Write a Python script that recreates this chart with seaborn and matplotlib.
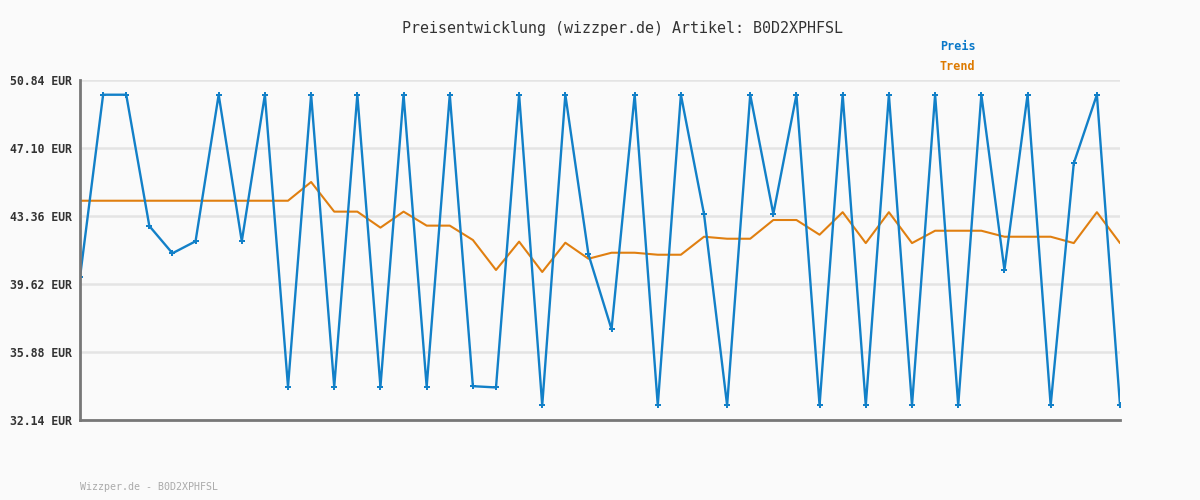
import numpy as np
import pandas as pd
import seaborn as sns
import matplotlib.pyplot as plt

# values
preis = [39.99, 50.03, 50.03, 42.81, 41.31, 41.97, 50.03, 41.97, 50.03, 33.97,
         50.03, 33.97, 50.03, 33.97, 50.03, 33.97, 50.03, 34.00, 33.93, 50.03,
         32.95, 50.03, 41.25, 37.13, 50.03, 32.95, 50.03, 43.47, 32.95, 50.03,
         43.47, 50.03, 32.95, 50.03, 32.95, 50.03, 32.95, 50.03, 32.95, 50.03,
         40.39, 50.03, 32.95, 46.26, 50.03, 32.95]
trend = [44.20, 44.20, 44.20, 44.20, 44.20, 44.20, 44.20, 44.20, 44.20, 44.20,
         45.23, 43.60, 43.60, 42.72, 43.60, 42.83, 42.83, 42.04, 40.39, 41.95,
         40.28, 41.89, 41.01, 41.34, 41.34, 41.23, 41.23, 42.22, 42.11, 42.11,
         43.14, 43.14, 42.33, 43.57, 41.87, 43.57, 41.87, 42.55, 42.55, 42.55,
         42.22, 42.22, 42.22, 41.87, 43.57, 41.87]
yticks = [32.14, 35.88, 39.62, 43.36, 47.10, 50.84]
ytick_labels = ["32.14 EUR", "35.88 EUR", "39.62 EUR", "43.36 EUR", "47.10 EUR", "50.84 EUR"]

BLUE = "#1280c8"
ORANGE = "#e07f10"
BG = "#fafafa"
MONO = "DejaVu Sans Mono"

df = pd.DataFrame({"idx": np.arange(len(preis)), "Preis": preis, "Trend": trend})

sns.set_theme(style="white")
plt.rcParams['font.family'] = [MONO]

fig = plt.figure(figsize=(12, 5), dpi=100, facecolor=BG)
ax = fig.add_axes([80 / 1200, 80 / 500, 1040 / 1200, 340 / 500])
ax.set_facecolor(BG)

sns.lineplot(data=df, x="idx", y="Trend", ax=ax, color=ORANGE, linewidth=1.5, zorder=3)
sns.lineplot(data=df, x="idx", y="Preis", ax=ax, color=BLUE, linewidth=1.7,
             marker="P", markersize=4, markeredgewidth=0, zorder=4)

ax.set_xlim(0, len(preis) - 1)
ax.set_ylim(yticks[0], yticks[-1])
ax.set_yticks(yticks, labels=ytick_labels, fontsize=8.3, fontweight="bold", color="#333333")
ax.set_xticks([])
ax.set_xlabel("")
ax.set_ylabel("")
ax.tick_params(axis="y", length=0, pad=6)
ax.grid(True, axis="y", color="#e4e4e4", linewidth=1.8)
ax.grid(False, axis="x")
for side in ["top", "right"]:
    ax.spines[side].set_visible(False)
for side in ["left", "bottom"]:
    ax.spines[side].set_color("#777777")
    ax.spines[side].set_linewidth(2)
    ax.spines[side].set_zorder(5)

fig.text(623 / 1200, 1 - 28 / 500, "Preisentwicklung (wizzper.de) Artikel: B0D2XPHFSL",
         ha="center", va="center", fontsize=10.8, color="#333333")
fig.text(940 / 1200, 1 - 47 / 500, "Preis", ha="left", va="center",
         fontsize=8.5, fontweight="bold", color="#0a78c8")
fig.text(940 / 1200, 1 - 67 / 500, "Trend", ha="left", va="center",
         fontsize=8.5, fontweight="bold", color="#dd7a00")
fig.text(80 / 1200, 1 - 487 / 500, "Wizzper.de - B0D2XPHFSL", ha="left", va="center",
         fontsize=7.2, color="#aaaaaa")

fig.savefig("out.png", dpi=100, facecolor=BG)
